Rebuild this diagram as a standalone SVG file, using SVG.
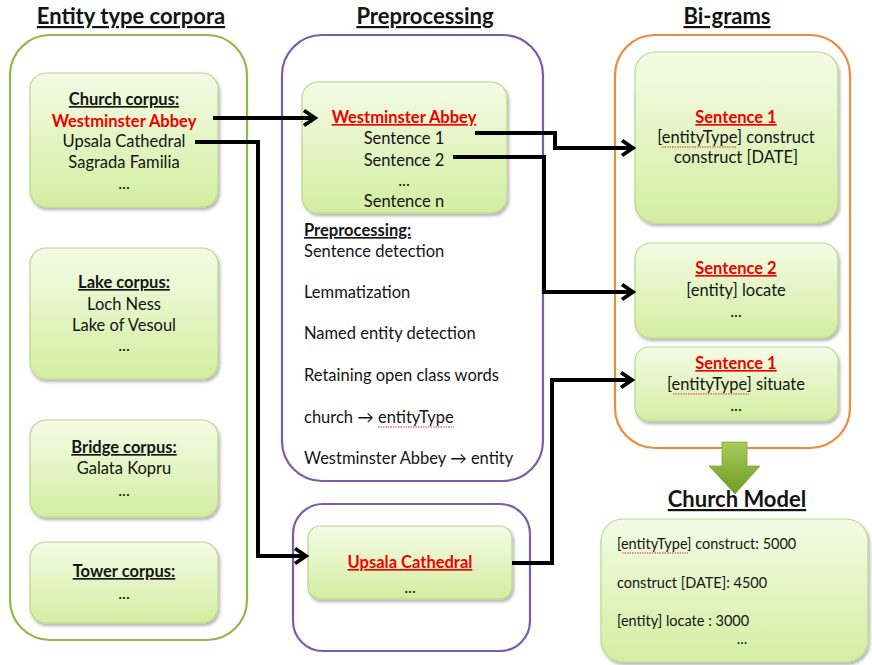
<svg xmlns="http://www.w3.org/2000/svg" width="872" height="665" viewBox="0 0 872 665">
<defs>
<linearGradient id="gbox" x1="0" y1="0" x2="0" y2="1">
<stop offset="0" stop-color="#f4fbe6"/>
<stop offset="1" stop-color="#d3eea0"/>
</linearGradient>
<linearGradient id="garrow" x1="0" y1="0" x2="0" y2="1">
<stop offset="0" stop-color="#a9cc5a"/>
<stop offset="1" stop-color="#6f9a24"/>
</linearGradient>
<filter id="sh" x="-10%" y="-10%" width="125%" height="130%">
<feDropShadow dx="1.5" dy="2.5" stdDeviation="1.8" flood-color="#000" flood-opacity="0.3"/>
</filter>
<marker id="arr" viewBox="0 0 16 18" markerWidth="16" markerHeight="18" refX="13" refY="9" orient="auto" markerUnits="userSpaceOnUse" overflow="visible">
<path d="M2,1.5 L13,9 L2,16.5" fill="none" stroke="#000" stroke-width="3.8"/>
</marker>
</defs>
<style>
text{font-family:Lato,"Liberation Sans",sans-serif;fill:#141414;font-size:16.5px}
.c{text-anchor:middle}
.b{font-weight:bold}
.u{text-decoration:underline}
.r{fill:#f00000;font-weight:bold;text-decoration:underline}
.title{font-size:22px;font-weight:bold;text-decoration:underline;text-anchor:middle}
.box{fill:url(#gbox);stroke:#bcd68e;stroke-width:1.2;filter:url(#sh)}
.cont{fill:#fff;stroke-width:2.2}
.conn{fill:none;stroke:#000;stroke-width:4;marker-end:url(#arr)}
.m{font-size:14.5px}
.sq{fill:none;stroke:#e03030;stroke-width:1.1;stroke-dasharray:1.5 1}
</style>
<rect width="872" height="665" fill="#fff"/>

<text class="title" x="131" y="24">Entity type corpora</text>
<text class="title" x="425" y="24">Preprocessing</text>
<text class="title" x="727" y="24">Bi-grams</text>

<g id="corpora">
<rect class="cont" x="10" y="35" width="237" height="605" rx="40" stroke="#93b84a"/>
</g>
<g id="church-corpus">
<rect class="box" x="30" y="73" width="188" height="134" rx="16"/>
<text class="c b u" x="124" y="105">Church corpus:</text>
<text class="c r" style="text-decoration:none" x="124" y="127">Westminster Abbey</text>
<text class="c" x="124" y="147">Upsala Cathedral</text>
<text class="c" x="124" y="168">Sagrada Familia</text>
<text class="c" x="124" y="189">...</text>
</g>
<g id="lake-corpus">
<rect class="box" x="30" y="248" width="188" height="131" rx="16"/>
<text class="c b u" x="124" y="288">Lake corpus:</text>
<text class="c" x="124" y="310">Loch Ness</text>
<text class="c" x="124" y="331">Lake of Vesoul</text>
<text class="c" x="124" y="351">...</text>
</g>
<g id="bridge-corpus">
<rect class="box" x="30" y="420" width="188" height="97" rx="16"/>
<text class="c b u" x="124" y="453">Bridge corpus:</text>
<text class="c" x="124" y="474">Galata Kopru</text>
<text class="c" x="124" y="496">...</text>
</g>
<g id="tower-corpus">
<rect class="box" x="30" y="542" width="188" height="81" rx="16"/>
<text class="c b u" x="124" y="577">Tower corpus:</text>
<text class="c" x="124" y="599">...</text>
</g>

<g id="preprocessing">
<rect class="cont" x="282" y="35" width="261" height="446" rx="40" stroke="#7a5ca8"/>
<text class="b u" x="304" y="236">Preprocessing:</text>
<text x="304" y="257">Sentence detection</text>
<text x="304" y="298">Lemmatization</text>
<text x="304" y="339">Named entity detection</text>
<text x="304" y="381">Retaining open class words</text>
<text x="304" y="423">church → entityType</text>
<path class="sq" d="M378,427 H454"/>
<text x="304" y="464">Westminster Abbey → entity</text>
</g>
<g id="westminster-abbey">
<rect class="box" x="302" y="82" width="205" height="131" rx="16"/>
<text class="c r" x="404" y="123">Westminster Abbey</text>
<text class="c" x="404" y="144">Sentence 1</text>
<text class="c" x="404" y="166">Sentence 2</text>
<text class="c" x="404" y="186">...</text>
<text class="c" x="404" y="207">Sentence n</text>
</g>
<g id="upsala-container">
<rect class="cont" x="293" y="504" width="237" height="147" rx="30" stroke="#7a5ca8"/>
</g>
<g id="upsala-cathedral">
<rect class="box" x="308" y="526" width="204" height="73" rx="12"/>
<text class="c r" x="410" y="568">Upsala Cathedral</text>
<text class="c" x="410" y="593">...</text>
</g>

<g id="bigrams">
<rect class="cont" x="615" y="35" width="235" height="413" rx="40" stroke="#f08a3c"/>
</g>
<g id="bigram-s1">
<rect class="box" x="635" y="52" width="203" height="171" rx="20"/>
<text class="c r" x="736" y="123">Sentence 1</text>
<text class="c" x="736" y="143">[entityType] construct</text>
<path class="sq" d="M662,147 H736"/>
<text class="c" x="736" y="163">construct [DATE]</text>
</g>
<g id="bigram-s2">
<rect class="box" x="635" y="243" width="203" height="95" rx="16"/>
<text class="c r" x="736" y="274">Sentence 2</text>
<text class="c" x="736" y="296">[entity] locate</text>
<text class="c" x="736" y="317">...</text>
</g>
<g id="bigram-s1b">
<rect class="box" x="635" y="347" width="203" height="74" rx="14"/>
<text class="c r" x="736" y="369">Sentence 1</text>
<text class="c" x="736" y="390">[entityType] situate</text>
<path class="sq" d="M673,394 H749"/>
<text class="c" x="736" y="411">...</text>
</g>

<g id="church-model">
<path d="M722,442 H747 V466 H760 L735,494 L709,466 H722 Z" fill="url(#garrow)" stroke="#7fa83a" stroke-width="0.8"/>
<text class="title" x="737" y="507">Church Model</text>
<rect class="box" x="601" y="519" width="267" height="143" rx="22"/>
<text class="m" x="617" y="549">[entityType] construct: 5000</text>
<path class="sq" d="M622,553 H688"/>
<text class="m" x="617" y="588">construct [DATE]: 4500</text>
<text class="m" x="617" y="626">[entity] locate : 3000</text>
<text class="m c" x="742" y="644">...</text>
</g>

<g id="connectors">
<path class="conn" d="M213,118 H315"/>
<path class="conn" d="M195,142 H258 V556 H306"/>
<path class="conn" d="M475,133 H555 V148 H633"/>
<path class="conn" d="M453,157 H544 V292 H633"/>
<path class="conn" d="M512,563 H552 V380 H632"/>
</g>
</svg>
